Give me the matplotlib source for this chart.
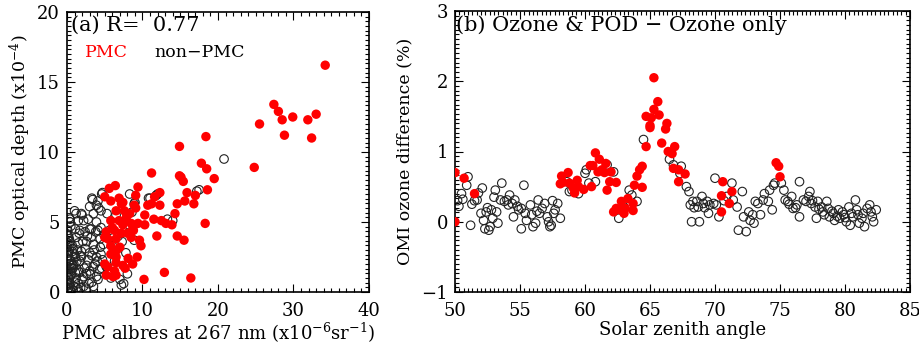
import matplotlib
matplotlib.use("Agg")
import matplotlib.pyplot as plt
from matplotlib.ticker import MultipleLocator

# ---------------- panel (a): optical depth vs albedo ----------------
pmc_alb = [34.2, 27.4, 28.0, 28.5, 29.9, 28.8, 31.9, 33.0, 32.4, 25.5, 24.8, 18.4, 14.9, 17.8,
           18.5, 19.5, 18.6, 11.2, 14.9, 15.1, 15.4, 15.9, 17.0, 16.8, 15.6, 14.6, 14.3, 11.6,
           12.3, 10.7, 11.2, 12.3, 11.5, 12.5, 13.1, 13.9, 11.9, 14.6, 15.5, 18.3, 12.9, 16.4,
           10.2, 9.8, 9.3, 8.1, 8.7, 7.7, 9.1, 9.4, 9.1, 6.4, 5.6, 5.0, 5.8, 6.9, 7.2, 6.5,
           7.6, 5.8, 8.3, 10.3, 10.3, 9.4, 8.7, 8.0, 6.9, 7.4, 6.3, 5.2, 5.4, 5.0, 6.5, 5.8,
           7.2, 8.5, 9.6, 6.6, 6.5, 6.5, 5.8, 5.4, 6.3, 5.2, 6.1, 6.5, 7.4, 5.0, 7.0, 7.8,
           8.5, 7.4, 8.9, 6.0, 7.9, 8.8]
pmc_pod = [16.2, 13.4, 12.9, 12.3, 12.5, 11.2, 12.3, 12.7, 11.0, 12.0, 8.9, 11.1, 10.4, 9.2,
           8.8, 8.1, 7.3, 8.5, 8.3, 8.2, 7.9, 7.1, 6.9, 6.3, 6.5, 6.3, 5.6, 6.8,
           7.1, 6.2, 6.3, 6.2, 5.2, 5.1, 4.9, 4.8, 4.0, 4.0, 3.7, 4.9, 1.4, 1.0,
           0.9, 3.3, 2.5, 2.4, 2.0, 1.7, 6.9, 7.5, 6.0, 7.6, 7.4, 6.8, 6.5, 6.7, 6.3, 5.8,
           5.8, 5.1, 5.6, 5.5, 4.8, 4.9, 4.5, 4.2, 5.1, 4.8, 4.4, 4.3, 3.8, 3.9, 3.8, 3.3,
           4.2, 3.9, 3.7, 3.0, 2.5, 2.1, 2.7, 1.8, 1.5, 1.2, 1.1, 1.2, 1.9, 2.0, 3.2, 5.2,
           4.9, 6.4, 6.2, 4.6, 5.4, 4.4]

non_alb = [3.3, 4.6, 3.9, 3.5, 1.2, 1.5, 0.4, 2.2, 1.1, 3.0, 4.1, 2.4, 0.0, 0.4, 1.5, 2.6,
           3.5, 4.4, 0.8, 1.9, 0.2, 3.0, 1.1, 3.9, 0.4, 1.7, 2.6, 3.5, 4.6, 0.8, 0.0, 1.5,
           3.0, 0.4, 2.2, 3.9, 1.1, 0.2, 3.3, 7.2, 0.2, 3.4, 4.7, 4.1, 1.9, 3.0, 4.5, 0.4,
           1.7, 3.2, 4.5, 8.9, 8.9, 11.0, 12.0, 14.0, 17.2, 20.8, 7.5, 8.0,
           0.1, 0.3, 0.5, 0.2, 0.6, 0.1, 0.4, 0.2, 0.7, 0.3, 0.1, 0.5, 0.9, 1.2, 0.8, 1.3,
           1.0, 1.4, 1.2, 1.6, 1.8, 2.0, 1.7, 2.3, 1.9, 2.4, 2.1, 2.7, 2.9, 3.1, 2.8, 3.3,
           3.6, 3.2, 3.8, 4.1, 4.3, 4.0, 4.5, 4.8, 4.4, 4.9, 0.0, 0.0, 0.0, 0.6, 1.5, 2.5,
           3.5, 0.3, 1.0, 2.0, 2.8, 3.9, 4.2, 5.3, 5.6, 6.0, 6.3, 5.8, 6.8, 7.3, 7.8, 8.2,
           8.6, 7.0, 6.5, 8.3, 17.5, 13.3, 11.8, 10.8, 9.0, 0.2, 0.4, 0.1, 0.3, 0.6, 0.2,
           0.8, 0.5, 1.1, 0.9, 0.3, 0.7, 1.3, 2.2, 2.6, 0.1, 0.4, 0.6, 1.8, 3.7, 4.7, 5.2]
non_pod = [6.7, 7.0, 6.2, 5.6, 5.6, 5.1, 5.0, 5.1, 4.5, 4.5, 4.4, 4.3, 4.1, 3.6, 3.5, 3.6,
           3.4, 3.2, 3.1, 2.9, 2.8, 2.8, 2.5, 2.5, 2.2, 2.2, 1.9, 1.8, 1.7, 1.7, 1.6, 1.5,
           1.5, 1.1, 1.1, 1.1, 0.7, 0.5, 0.7, 0.5, 0.3, 6.6, 7.1, 6.5, 5.6, 6.1, 5.8, 5.2,
           4.4, 4.5, 4.6, 6.3, 3.7, 6.7, 7.0, 5.1, 7.2, 9.5, 0.6, 1.3,
           0.2, 0.6, 0.1, 1.0, 1.3, 1.8, 2.3, 2.9, 3.3, 3.8, 4.4, 4.7, 0.4, 1.0, 1.9, 2.2,
           2.7, 3.0, 3.9, 4.2, 0.3, 0.9, 1.4, 1.7, 2.5, 3.1, 3.6, 4.0, 0.6, 1.3, 2.3, 2.6,
           3.0, 3.9, 4.3, 0.9, 1.6, 2.2, 2.7, 3.4, 3.8, 4.1, 0.8, 2.4, 3.2, 0.0, 0.6, 0.2,
           0.4, 5.3, 5.8, 5.5, 5.2, 5.0, 6.0, 5.6, 4.4, 3.3, 2.2, 1.0, 4.0, 3.6, 2.8, 4.8,
           5.7, 0.9, 5.5, 7.0, 7.3, 5.2, 6.9, 6.7, 6.4, 1.4, 2.0, 2.6, 3.4, 2.0, 4.0,
           0.1, 1.2, 1.4, 2.0, 0.9, 2.9, 0.3, 0.4, 1.3, 3.5, 0.2, 1.7, 2.6, 2.0, 2.3, 1.8]

# ---------------- panel (b): ozone difference vs SZA ----------------
pmc_sza = [65.3, 65.6, 65.3, 65.7, 64.7, 65.1, 65.0, 65.0, 66.3, 66.2, 65.9, 64.7, 66.9, 66.4,
           66.7, 64.4, 66.8, 67.2, 64.2, 67.7, 64.0, 67.2, 63.8, 64.4, 60.8, 61.1, 60.4, 60.6,
           61.3, 61.6, 61.0, 62.0, 61.5, 58.2, 58.7, 58.3, 58.1, 58.8, 59.4, 59.1, 59.5, 59.9,
           59.2, 60.5, 61.7, 61.9, 62.4, 62.2, 62.4, 62.8, 63.0, 63.3, 63.1, 63.7, 63.7, 62.7,
           70.5, 70.6, 70.5, 71.1, 71.3, 74.7, 74.9, 75.0, 50.7, 51.5, 50.0, 50.0]
pmc_dif = [2.05, 1.71, 1.60, 1.52, 1.50, 1.48, 1.37, 1.34, 1.40, 1.32, 1.12, 1.07, 1.07, 1.00,
           0.97, 0.79, 0.76, 0.74, 0.74, 0.68, 0.65, 0.57, 0.52, 0.49, 0.98, 0.89, 0.80, 0.80,
           0.74, 0.83, 0.71, 0.71, 0.70, 0.65, 0.70, 0.56, 0.54, 0.55, 0.59, 0.48, 0.50, 0.46,
           0.41, 0.50, 0.45, 0.57, 0.56, 0.14, 0.19, 0.29, 0.12, 0.33, 0.19, 0.16, 0.26, 0.17,
           0.14, 0.57, 0.37, 0.26, 0.43, 0.84, 0.79, 0.64, 0.62, 0.40, 0.70, 0.00]

non_sza = [50.5, 50.6, 50.9, 51.0, 51.2, 51.3, 51.7, 51.8, 52.1, 52.0, 52.2, 52.3, 52.6, 52.7,
           52.4, 52.9, 52.8, 53.2, 53.3, 53.1, 53.6, 53.5, 53.8, 54.0, 54.2, 54.4, 54.1, 54.6,
           54.5, 54.9, 55.1, 55.3, 55.4, 55.1, 55.5, 55.8, 55.9, 56.2, 56.0, 56.4, 56.5, 56.7,
           56.9, 57.1, 57.2, 57.3, 57.6, 57.7, 57.9, 58.1, 57.4,
           58.6, 58.8, 59.5, 60.0, 60.1, 60.8, 61.7, 62.2, 62.6, 63.0, 63.6, 64.0, 64.5, 66.8,
           66.5, 67.4, 67.3, 67.8, 68.0, 68.1, 68.2, 68.8, 68.3, 68.6, 68.7, 69.0, 69.1, 69.4,
           69.5, 69.6, 69.9, 70.0, 70.3, 70.1, 70.9, 71.3, 71.4, 71.7, 71.8, 72.1, 72.2, 72.4,
           72.6, 72.7, 73.0, 73.1, 73.3, 73.5, 73.7, 73.8, 74.1, 74.2, 74.5, 74.4, 74.6, 75.1,
           75.3, 75.4, 75.6, 75.9, 76.0, 76.3, 76.5, 76.5, 76.8, 77.0, 77.2, 77.3, 77.4, 77.7,
           77.8, 77.9, 78.2, 78.3, 78.6, 78.7, 78.8, 79.1, 79.2, 79.5, 79.6, 79.9, 80.1, 80.3,
           80.4, 80.6, 80.8, 80.9, 81.1, 81.4, 81.5, 81.7, 81.9, 82.1, 82.2, 82.4,
           50.2, 50.3, 51.5, 52.5, 53.0, 54.8, 56.3, 57.5, 59.0, 60.3, 63.4, 68.4, 69.2, 70.7,
           72.9, 75.7, 76.2, 77.5, 78.0, 78.4, 79.0, 79.4, 79.8, 80.0, 80.5, 81.0, 81.3, 82.0]
non_dif = [0.40, 0.32, 0.52, 0.64, -0.05, 0.25, 0.31, 0.41, 0.48, 0.12, 0.02, -0.10, -0.12, -0.07,
           0.14, 0.05, 0.17, 0.14, -0.02, 0.45, 0.55, 0.31, 0.29, 0.31, 0.38, 0.26, 0.24, 0.31,
           0.07, 0.17, 0.19, 0.52, 0.12, -0.10, 0.02, 0.24, 0.10, -0.02, -0.07, 0.31, 0.12, 0.19,
           0.26, 0.07, 0.00, -0.07, 0.12, 0.17, 0.26, 0.05, -0.05,
           0.57, 0.43, 0.40, 0.69, 0.74, 0.57, 0.81, 0.71, 0.05, 0.21, 0.38, 0.29, 1.17, 0.81,
           0.89, 0.79, 0.69, 0.50, 0.43, 0.24, 0.00, 0.00, 0.29, 0.29, 0.21, 0.36, 0.26, 0.29,
           0.12, 0.24, 0.26, 0.62, 0.07, 0.24, 0.36, 0.55, 0.31, 0.21, -0.12, 0.43, 0.07, -0.14,
           0.14, 0.02, -0.02, 0.29, 0.26, 0.10, 0.31, 0.40, 0.29, 0.45, 0.52, 0.17, 0.55, 0.55,
           0.45, 0.31, 0.29, 0.36, 0.19, 0.24, 0.57, 0.07, 0.31, 0.29, 0.36, 0.43, 0.26, 0.21,
           0.05, 0.29, 0.21, 0.14, 0.29, 0.19, 0.07, 0.12, 0.02, 0.17, 0.05, 0.10, 0.00, 0.21,
           -0.05, 0.07, 0.31, 0.17, -0.02, 0.12, -0.07, 0.19, 0.24, 0.07, 0.00, 0.17,
           0.30, 0.22, 0.30, 0.20, 0.35, 0.22, 0.15, 0.30, 0.45, 0.55, 0.45, 0.20, 0.20, 0.30,
           0.10, 0.25, 0.20, 0.30, 0.18, 0.10, 0.15, 0.08, 0.14, 0.06, 0.12, 0.10, 0.05, 0.14]

plt.rcParams['font.family'] = ['DejaVu Serif']
plt.rcParams['mathtext.fontset'] = 'dejavuserif'

fig = plt.figure(figsize=(9.2, 3.44), dpi=100)
ax1 = fig.add_axes([67 / 920, 52 / 344, 302 / 920, 280 / 344])
ax2 = fig.add_axes([455 / 920, 52 / 344, 455 / 920, 281 / 344])

open_kw = dict(s=38, facecolors='none', edgecolors='#222222', linewidths=0.8, zorder=2)
fill_kw = dict(s=46, color='#ff0000', edgecolors='none', zorder=3)

ax1.scatter(non_alb, non_pod, **open_kw)
ax1.scatter(pmc_alb, pmc_pod, **fill_kw)
ax2.scatter(non_sza, non_dif, **open_kw)
ax2.scatter(pmc_sza, pmc_dif, **fill_kw)

ax1.set_xlim(0, 40)
ax1.set_ylim(0, 20)
ax1.xaxis.set_major_locator(MultipleLocator(10))
ax1.xaxis.set_minor_locator(MultipleLocator(1))
ax1.yaxis.set_major_locator(MultipleLocator(5))
ax1.yaxis.set_minor_locator(MultipleLocator(5 / 15))

ax2.set_xlim(50, 85)
ax2.set_ylim(-1, 3)
ax2.xaxis.set_major_locator(MultipleLocator(5))
ax2.xaxis.set_minor_locator(MultipleLocator(5 / 15))
ax2.yaxis.set_major_locator(MultipleLocator(1))
ax2.yaxis.set_minor_locator(MultipleLocator(1 / 15))

for ax in (ax1, ax2):
    for sp in ax.spines.values():
        sp.set_linewidth(1.2)
    ax.tick_params(which='both', direction='in', top=True, right=True,
                   labelsize=13, width=0.8, colors='black')
    ax.tick_params(axis='x', which='both', pad=7)
    ax.tick_params(axis='y', which='both', pad=5)
    ax.tick_params(which='major', length=6)
    ax.tick_params(which='minor', length=3)

ax1.set_xlabel('PMC albres at 267 nm (x10$^{-6}$sr$^{-1}$)', fontsize=13, labelpad=1)
ax1.set_ylabel('PMC optical depth (x10$^{-4}$)', fontsize=12.5, labelpad=3)
ax2.set_xlabel('Solar zenith angle', fontsize=13, labelpad=1)
ax2.set_ylabel('OMI ozone difference (%)', fontsize=12.5, labelpad=6)

ax1.text(0.012, 0.985, '(a) R=  0.77', transform=ax1.transAxes, ha='left', va='top', fontsize=15)
ax1.text(0.06, 0.855, 'PMC', transform=ax1.transAxes, ha='left', va='center',
         fontsize=12.5, color='#ff0000')
ax1.text(0.29, 0.855, 'non\u2212PMC', transform=ax1.transAxes, ha='left', va='center',
         fontsize=12.5, color='black')
ax2.text(0.003, 0.985, '(b) Ozone & POD \u2212 Ozone only', transform=ax2.transAxes,
         ha='left', va='top', fontsize=15)

fig.savefig('out.png', dpi=100)
